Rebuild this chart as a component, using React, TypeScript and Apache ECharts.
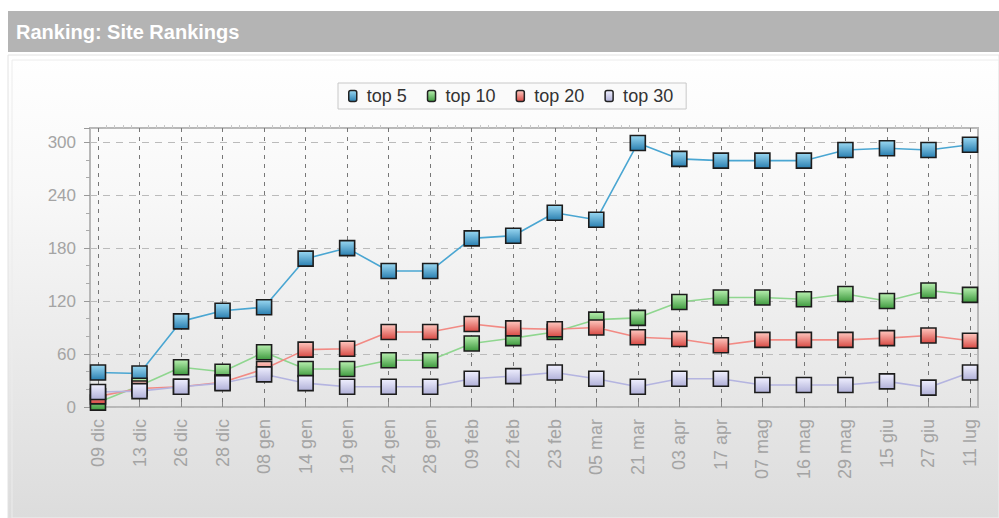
import React, { useEffect, useRef } from "react";
import * as echarts from "echarts";

const categories = ["09 dic","13 dic","26 dic","28 dic","08 gen","14 gen","19 gen","24 gen","28 gen","09 feb","22 feb","23 feb","05 mar","21 mar","03 apr","17 apr","07 mag","16 mag","29 mag","15 giu","27 giu","11 lug"];
const top5 = [39,38,97,109,113,168,180,154,154,191,194,220,212,299,281,279,279,279,291,293,291,297];
const top10 = [5,24,45,40,62,43,43,53,53,72,78,85,99,101,119,124,124,122,128,120,132,127];
const top20 = [12,21,23,28,43,65,66,85,85,94,89,88,90,79,77,70,76,76,76,78,81,75];
const top30 = [17,18,23,27,37,27,23,23,23,32,35,39,32,23,32,32,25,25,25,29,22,39];
const yTicks = [0,60,120,180,240,300];

const seriesDefs = [
  { name: "top 5", data: top5, line: "#4aa6d2", light: "#9ad8f2", dark: "#2a7fb0" },
  { name: "top 10", data: top10, line: "#8fd68f", light: "#b8f0b0", dark: "#3f9a3f" },
  { name: "top 20", data: top20, line: "#f28a84", light: "#ffc8c0", dark: "#d84a44" },
  { name: "top 30", data: top30, line: "#b4b4e0", light: "#f0f0ff", dark: "#b0b0d8" },
];

export default function App() {
  const ref = useRef<HTMLDivElement>(null);
  useEffect(() => {
    if (!ref.current) return;
    const chart = echarts.init(ref.current, undefined, { renderer: "svg" });
    const L = 90, R = 978, T = 128, B = 407;
    const pad = 8;
    const yMax = 316;
    chart.setOption({
      animation: false,
      textStyle: { fontFamily: "Liberation Sans, Arial, sans-serif" },
      graphic: [
        { type: "rect", shape: { x: 8, y: 11, width: 991, height: 41 }, style: { fill: "#b4b4b4" }, z: -10 },
        {
          type: "rect", shape: { x: 8, y: 55, width: 991, height: 463 },
          style: {
            fill: new echarts.graphic.LinearGradient(0, 0, 0, 1, [
              { offset: 0, color: "#ffffff" }, { offset: 0.3, color: "#f8f8f8" }, { offset: 1, color: "#dcdcdc" },
            ]),
            stroke: "#e2e2e2", lineWidth: 1,
          },
          z: -10,
        },
        { type: "rect", shape: { x: 12, y: 60, width: 987, height: 458 }, style: { fill: "none", stroke: "#ececec", lineWidth: 1 }, z: -9 },
        {
          type: "text", x: 16, y: 32,
          style: { text: "Ranking: Site Rankings", fill: "#ffffff", font: "bold 20px Liberation Sans, Arial, sans-serif", textVerticalAlign: "middle" },
          z: 10,
        },
      ],
      legend: {
        left: 338, top: 83,
        padding: [4, 13, 4, 10],
        backgroundColor: "#fafafa",
        borderColor: "#c8c8c8", borderWidth: 1,
        itemWidth: 8, itemHeight: 11, itemGap: 20,
        icon: "roundRect",
        textStyle: { fontSize: 18, color: "#333", padding: [0, 0, 0, 5] },
        itemStyle: { borderColor: "#222", borderWidth: 1.5 },
        data: seriesDefs.map((s) => s.name),
      },
      grid: [
        { left: L, top: T, width: R - L, height: B - T, show: true, borderColor: "#b8b8b8", borderWidth: 2, backgroundColor: "transparent" },
        { left: L + pad, top: T, width: R - L - 2 * pad, height: B - T },
      ],
      xAxis: [
        { gridIndex: 0, type: "value", min: 0, max: 1, show: false },
        {
          gridIndex: 1, type: "value", min: 0, max: categories.length - 1, interval: 1,
          axisLine: { show: false },
          axisTick: { show: true, inside: true, length: 5, lineStyle: { color: "#888" } },
          axisLabel: {
            rotate: 90, fontSize: 18, color: "#a4a4a4", margin: 12,
            formatter: (v: number) => categories[Math.round(v)] ?? "",
          },
          splitLine: { show: true, lineStyle: { color: "#777", type: [4, 5], width: 1 } },
        },
        {
          gridIndex: 1, type: "value", min: 0, max: categories.length - 1, interval: 1,
          axisLine: { show: false },
          axisTick: { show: false, inside: false },
          minorTick: { show: true, splitNumber: 5, length: 3, lineStyle: { color: "#c8c8c8" } },
          axisLabel: { show: false },
          splitLine: { show: false },
        },
      ],
      yAxis: [
        {
          gridIndex: 0, type: "value", min: 0, max: yMax, interval: 60,
          axisLine: { show: false },
          axisTick: { show: true, length: 6, lineStyle: { color: "#999" } },
          minorTick: { show: true, splitNumber: 3, length: 4, lineStyle: { color: "#aaa" } },
          axisLabel: {
            fontSize: 17, color: "#a4a4a4", margin: 14,
            formatter: (v: number) => (yTicks.includes(v) ? String(v) : ""),
          },
          splitLine: { show: true, lineStyle: { color: "#bbb", type: [7, 6], width: 1 } },
        },
        { gridIndex: 1, type: "value", min: 0, max: yMax, show: false, splitLine: { show: false } },
      ],
      series: seriesDefs.map((s) => ({
        name: s.name,
        type: "line",
        xAxisIndex: 1,
        yAxisIndex: 1,
        data: s.data.map((v, i) => [i, v]),
        symbol: "rect",
        symbolSize: 15,
        lineStyle: { color: s.line, width: 1.6 },
        itemStyle: {
          color: new echarts.graphic.LinearGradient(0, 0, 0, 1, [
            { offset: 0, color: s.light }, { offset: 1, color: s.dark },
          ]),
          borderColor: "#1c1c1c",
          borderWidth: 1.6,
        },
      })),
    });
    return () => chart.dispose();
  }, []);
  return (
    <div style={{ position: "absolute", left: 0, top: 0, width: 999, height: 518, background: "#fff" }}>
      <div ref={ref} style={{ width: 999, height: 518 }} />
    </div>
  );
}
